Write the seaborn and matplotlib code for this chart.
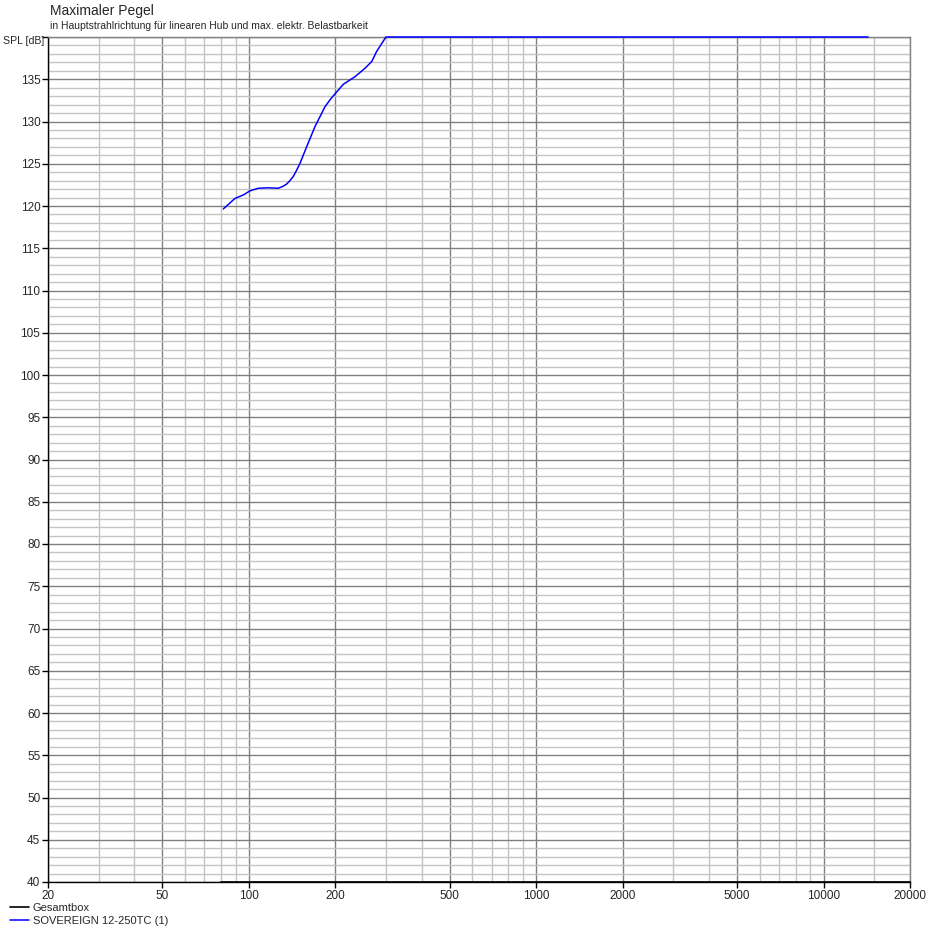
import numpy as np
import pandas as pd
import seaborn as sns
import matplotlib.pyplot as plt
from matplotlib.ticker import FixedLocator, NullFormatter

# SOVEREIGN 12-250TC (1) - max SPL
freq_sov = [81.5, 89.5, 95.6, 101, 107.9, 116, 126.6, 131, 135.4, 139, 142.8, 146.5, 150.7,
            158.9, 169.9, 184.1, 193, 202.2, 213.2, 234.1, 253.7, 267.7, 278.6, 300,
            1000, 5000, 14300]
spl_sov = [119.65, 120.9, 121.3, 121.8, 122.1, 122.15, 122.1, 122.3, 122.6, 123.0, 123.5,
           124.2, 125.05, 127.0, 129.4, 131.75, 132.7, 133.5, 134.4, 135.3, 136.3, 137.1,
           138.3, 140, 140, 140, 140]

# Gesamtbox - sits on the lower edge
freq_box = [80, 200, 1000, 5000, 20000]
spl_box = [40, 40, 40, 40, 40]

x_major = [20, 50, 100, 200, 500, 1000, 2000, 5000, 10000, 20000]
x_minor = [30, 40, 60, 70, 80, 90, 300, 400, 600, 700, 800, 900,
           3000, 4000, 6000, 7000, 8000, 9000, 15000]
y_major = list(range(40, 141, 5))
y_labels = [str(v) for v in y_major[:-1]] + [""]

sns.set_style("white")
plt.rcParams['font.family'] = ['Liberation Sans', 'DejaVu Sans']

fig = plt.figure(figsize=(9.5, 9.36), dpi=100)
ax = fig.add_axes([48 / 950, 1 - 882 / 936, 862 / 950, 845 / 936])

df_box = pd.DataFrame({"f": freq_box, "spl": spl_box})
df_sov = pd.DataFrame({"f": freq_sov, "spl": spl_sov})
sns.lineplot(data=df_box, x="f", y="spl", ax=ax, color="black", lw=1.2,
             label="Gesamtbox", clip_on=False, zorder=5)
sns.lineplot(data=df_sov, x="f", y="spl", ax=ax, color="#0000ff", lw=1.1,
             label="SOVEREIGN 12-250TC (1)", clip_on=False, zorder=5)

ax.set_xscale("log")
ax.set_xlim(20, 20000)
ax.set_ylim(40, 140)

ax.xaxis.set_major_locator(FixedLocator(x_major))
ax.xaxis.set_minor_locator(FixedLocator(x_minor))
ax.set_xticklabels([str(v) for v in x_major])
ax.xaxis.set_minor_formatter(NullFormatter())
ax.yaxis.set_major_locator(FixedLocator(y_major))
ax.yaxis.set_minor_locator(FixedLocator([v for v in range(40, 141) if v % 5]))
ax.set_yticklabels(y_labels)

ax.grid(which="major", color="#808080", lw=1)
ax.grid(which="minor", color="#c4c4c4", lw=1)
ax.set_axisbelow(True)
ax.tick_params(which="major", length=4, width=1, color="black", labelsize=8.5, pad=1.5,
               direction="out", bottom=True, left=True)
ax.tick_params(which="minor", length=0)
for s in ax.spines.values():
    s.set_color("#808080")
    s.set_linewidth(1)
ax.spines["bottom"].set_color("black")
ax.spines["left"].set_color("black")
ax.set_xlabel("")
ax.set_ylabel("")

# y unit sits where the top tick label would be
fig.text(44 / 950, 1 - 41 / 936, "SPL [dB]", fontsize=7.6, va="center", ha="right")

fig.text(50 / 950, 1 - 11 / 936, "Maximaler Pegel", fontsize=10, va="center", ha="left")
fig.text(50 / 950, 1 - 26 / 936,
         "in Hauptstrahlrichtung für linearen Hub und max. elektr. Belastbarkeit",
         fontsize=7.5, va="center", ha="left")

ax.legend_.remove()
h, l = ax.get_legend_handles_labels()
fig.legend(h, l, loc="upper left", bbox_to_anchor=(10 / 950, 1 - 903 / 936), frameon=False,
           fontsize=8, handlelength=1.7, handletextpad=0.35, labelspacing=0.3,
           borderaxespad=0, borderpad=0)

fig.savefig("out.png", dpi=100)
